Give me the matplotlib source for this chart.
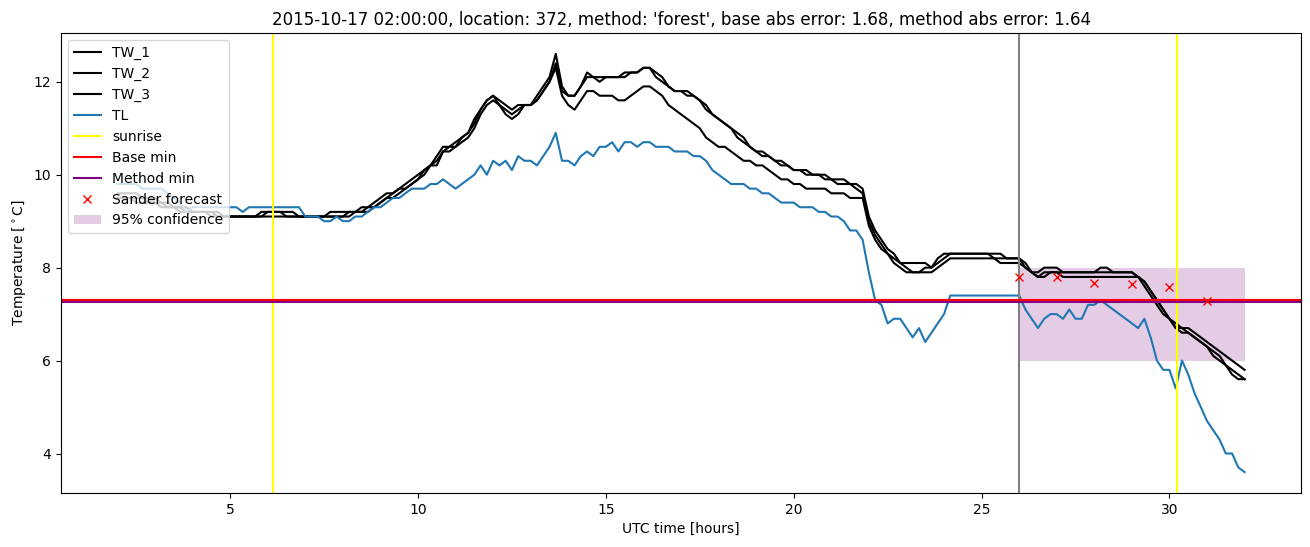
import numpy as np
import matplotlib
matplotlib.use("Agg")
import matplotlib.pyplot as plt

# time axis: UTC hours, 10 minute steps from 02:00 to 32:00
hours = np.arange(181) / 6.0 + 2.0

TL = [9.8, 9.8, 9.8, 9.8, 9.7, 9.7,
      9.7, 9.7, 9.6, 9.5, 9.4, 9.2,
      9.3, 9.3, 9.3, 9.3, 9.3, 9.3,
      9.3, 9.3, 9.2, 9.3, 9.3, 9.3,
      9.3, 9.3, 9.3, 9.3, 9.3, 9.3,
      9.1, 9.1, 9.1, 9.0, 9.0, 9.1,
      9.0, 9.0, 9.1, 9.1, 9.2, 9.3,
      9.3, 9.4, 9.5, 9.5, 9.6, 9.7,
      9.7, 9.7, 9.8, 9.8, 9.9, 9.8,
      9.7, 9.8, 9.9, 10.0, 10.2, 10.0,
      10.3, 10.2, 10.3, 10.1, 10.4, 10.3,
      10.3, 10.2, 10.4, 10.6, 10.9, 10.3,
      10.3, 10.2, 10.4, 10.5, 10.4, 10.6,
      10.6, 10.7, 10.5, 10.7, 10.7, 10.6,
      10.7, 10.7, 10.6, 10.6, 10.6, 10.5,
      10.5, 10.5, 10.4, 10.4, 10.3, 10.1,
      10.0, 9.9, 9.8, 9.8, 9.8, 9.7,
      9.7, 9.6, 9.6, 9.5, 9.4, 9.4,
      9.4, 9.3, 9.3, 9.3, 9.2, 9.2,
      9.1, 9.1, 9.0, 8.8, 8.8, 8.6,
      7.9, 7.3, 7.2, 6.8, 6.9, 6.9,
      6.7, 6.5, 6.7, 6.4, 6.6, 6.8,
      7.0, 7.4, 7.4, 7.4, 7.4, 7.4,
      7.4, 7.4, 7.4, 7.4, 7.4, 7.4,
      7.4, 7.1, 6.9, 6.7, 6.9, 7.0,
      7.0, 6.9, 7.1, 6.9, 6.9, 7.2,
      7.2, 7.3, 7.2, 7.1, 7.0, 6.9,
      6.8, 6.7, 6.9, 6.5, 6.0, 5.8,
      5.8, 5.4, 6.0, 5.7, 5.3, 5.0,
      4.7, 4.5, 4.3, 4.0, 4.0, 3.7,
      3.6]

TW_1 = [9.6, 9.6, 9.6, 9.6, 9.5, 9.5,
        9.5, 9.4, 9.4, 9.3, 9.3, 9.3,
        9.2, 9.2, 9.2, 9.2, 9.2, 9.1,
        9.1, 9.1, 9.1, 9.1, 9.1, 9.2,
        9.2, 9.2, 9.2, 9.2, 9.2, 9.1,
        9.1, 9.1, 9.1, 9.1, 9.2, 9.2,
        9.2, 9.2, 9.2, 9.3, 9.3, 9.4,
        9.5, 9.6, 9.6, 9.7, 9.8, 9.9,
        10.0, 10.1, 10.2, 10.4, 10.6, 10.6,
        10.7, 10.8, 10.9, 11.2, 11.4, 11.6,
        11.7, 11.6, 11.5, 11.4, 11.5, 11.5,
        11.5, 11.7, 11.9, 12.1, 12.6, 11.9,
        11.7, 11.7, 11.9, 12.2, 12.1, 12.1,
        12.1, 12.1, 12.1, 12.2, 12.2, 12.2,
        12.3, 12.3, 12.2, 12.1, 11.9, 11.8,
        11.8, 11.8, 11.7, 11.6, 11.5, 11.3,
        11.2, 11.1, 11.0, 10.9, 10.8, 10.6,
        10.5, 10.5, 10.4, 10.3, 10.3, 10.2,
        10.1, 10.1, 10.1, 10.0, 10.0, 10.0,
        9.9, 9.9, 9.9, 9.8, 9.8, 9.7,
        9.1, 8.8, 8.6, 8.4, 8.3, 8.1,
        8.1, 8.1, 8.1, 8.1, 8.0, 8.2,
        8.3, 8.3, 8.3, 8.3, 8.3, 8.3,
        8.3, 8.3, 8.3, 8.3, 8.2, 8.2,
        8.2, 8.1, 7.9, 7.9, 8.0, 8.0,
        8.0, 7.9, 7.9, 7.9, 7.9, 7.9,
        7.9, 8.0, 8.0, 7.9, 7.9, 7.9,
        7.9, 7.8, 7.7, 7.5, 7.3, 7.1,
        6.9, 6.8, 6.7, 6.7, 6.6, 6.5,
        6.4, 6.3, 6.2, 6.1, 6.0, 5.9,
        5.8]

TW_2 = [9.5, 9.5, 9.5, 9.5, 9.5, 9.4,
        9.4, 9.4, 9.3, 9.3, 9.3, 9.2,
        9.2, 9.2, 9.2, 9.2, 9.1, 9.1,
        9.1, 9.1, 9.1, 9.1, 9.1, 9.1,
        9.2, 9.2, 9.2, 9.1, 9.1, 9.1,
        9.1, 9.1, 9.1, 9.1, 9.1, 9.1,
        9.1, 9.2, 9.2, 9.2, 9.3, 9.3,
        9.4, 9.5, 9.6, 9.7, 9.7, 9.8,
        9.9, 10.1, 10.2, 10.3, 10.5, 10.6,
        10.6, 10.8, 10.9, 11.1, 11.4, 11.6,
        11.7, 11.5, 11.4, 11.3, 11.4, 11.5,
        11.5, 11.6, 11.8, 12.0, 12.4, 11.8,
        11.7, 11.7, 11.9, 12.1, 12.1, 12.0,
        12.1, 12.1, 12.1, 12.1, 12.2, 12.2,
        12.3, 12.3, 12.1, 12.0, 11.9, 11.8,
        11.8, 11.7, 11.7, 11.6, 11.4, 11.3,
        11.2, 11.1, 11.0, 10.8, 10.7, 10.6,
        10.5, 10.4, 10.4, 10.3, 10.2, 10.2,
        10.1, 10.1, 10.0, 10.0, 10.0, 9.9,
        9.9, 9.8, 9.8, 9.8, 9.7, 9.6,
        9.0, 8.7, 8.5, 8.3, 8.2, 8.1,
        8.0, 7.9, 7.9, 7.9, 7.9, 8.0,
        8.1, 8.2, 8.2, 8.2, 8.2, 8.2,
        8.2, 8.2, 8.2, 8.1, 8.1, 8.1,
        8.1, 8.0, 7.9, 7.8, 7.9, 7.9,
        7.9, 7.9, 7.9, 7.9, 7.9, 7.9,
        7.9, 7.9, 7.9, 7.9, 7.9, 7.9,
        7.9, 7.8, 7.7, 7.5, 7.3, 7.1,
        6.9, 6.7, 6.7, 6.6, 6.5, 6.4,
        6.3, 6.2, 6.1, 5.9, 5.8, 5.7,
        5.6]

TW_3 = [9.5, 9.5, 9.5, 9.4, 9.4, 9.4,
        9.4, 9.3, 9.3, 9.3, 9.2, 9.2,
        9.2, 9.2, 9.2, 9.1, 9.1, 9.1,
        9.1, 9.1, 9.1, 9.1, 9.1, 9.1,
        9.1, 9.1, 9.1, 9.1, 9.1, 9.1,
        9.1, 9.1, 9.1, 9.1, 9.1, 9.1,
        9.1, 9.1, 9.2, 9.2, 9.2, 9.3,
        9.4, 9.5, 9.5, 9.6, 9.7, 9.8,
        9.9, 10.0, 10.2, 10.2, 10.5, 10.5,
        10.6, 10.7, 10.8, 11.0, 11.3, 11.5,
        11.6, 11.5, 11.3, 11.2, 11.3, 11.5,
        11.5, 11.6, 11.8, 12.0, 12.3, 11.7,
        11.5, 11.4, 11.6, 11.8, 11.8, 11.7,
        11.7, 11.7, 11.6, 11.6, 11.7, 11.8,
        11.9, 11.9, 11.8, 11.7, 11.5, 11.4,
        11.3, 11.2, 11.1, 11.0, 10.8, 10.7,
        10.6, 10.6, 10.5, 10.4, 10.3, 10.3,
        10.2, 10.2, 10.1, 10.0, 9.9, 9.9,
        9.8, 9.8, 9.7, 9.7, 9.7, 9.7,
        9.6, 9.6, 9.6, 9.5, 9.5, 9.5,
        8.9, 8.6, 8.4, 8.3, 8.1, 8.0,
        7.9, 7.9, 7.9, 8.0, 8.0, 8.1,
        8.2, 8.3, 8.3, 8.3, 8.3, 8.3,
        8.3, 8.3, 8.2, 8.2, 8.2, 8.2,
        8.2, 8.0, 7.9, 7.8, 7.8, 7.9,
        7.9, 7.8, 7.8, 7.8, 7.8, 7.8,
        7.8, 7.8, 7.8, 7.8, 7.8, 7.8,
        7.8, 7.8, 7.6, 7.4, 7.2, 7.0,
        6.9, 6.7, 6.6, 6.6, 6.5, 6.4,
        6.3, 6.1, 6.0, 5.9, 5.7, 5.6,
        5.6]

sunrise = [6.15, 30.21]
forecast_start = 26.0
base_min = 7.30
method_min = 7.26

sander_hours = [26, 27, 28, 29, 30, 31]
sander_temp = [7.80, 7.80, 7.66, 7.65, 7.59, 7.29]

conf_hours = [26, 32]
conf_low = [6.0, 6.0]
conf_high = [8.0, 8.0]

title = ("2015-10-17 02:00:00, location: 372, method: 'forest', "
         "base abs error: 1.68, method abs error: 1.64")

fig, ax = plt.subplots(figsize=(13.1, 5.47), dpi=100)
fig.subplots_adjust(left=0.0466, right=0.9931, top=0.9397, bottom=0.0987)

ax.plot(hours, TW_1, color='black', label='TW_1')
ax.plot(hours, TW_2, color='black', label='TW_2')
ax.plot(hours, TW_3, color='black', label='TW_3')
ax.plot(hours, TL, label='TL')
ax.axvline(sunrise[0], color='yellow', label='sunrise')
ax.axvline(sunrise[1], color='yellow')
ax.axvline(forecast_start, color='grey')
ax.axhline(base_min, color='red', label='Base min')
ax.axhline(method_min, color='purple', label='Method min')
ax.plot(sander_hours, sander_temp, 'x', color='red', label='Sander forecast')
ax.fill_between(conf_hours, conf_low, conf_high, color='purple', alpha=0.2,
                linewidth=0, label='95% confidence')

ax.set_title(title)
ax.set_xlabel('UTC time [hours]')
ax.set_ylabel(r'Temperature [$^\circ$C]')
ax.legend(loc='upper left')

fig.savefig('out.png', dpi=100)
